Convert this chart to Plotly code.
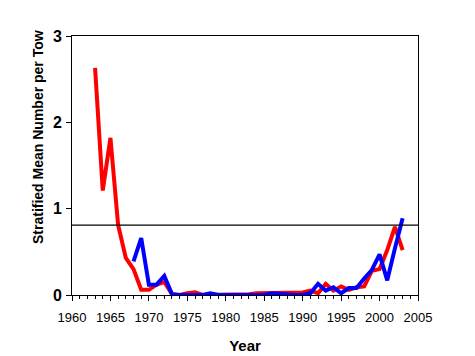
import plotly.graph_objects as go

red_years = list(range(1963, 2004))
red_values = [2.63, 1.21, 1.82, 0.81, 0.43, 0.30, 0.06, 0.06, 0.12, 0.15, 0.01,
              0.00, 0.02, 0.03, 0.00, 0.00, 0.00, 0.00, 0.00, 0.00, 0.01, 0.02,
              0.02, 0.03, 0.02, 0.02, 0.02, 0.03, 0.05, 0.02, 0.13, 0.05, 0.10,
              0.06, 0.09, 0.10, 0.28, 0.30, 0.52, 0.79, 0.52]
blue_years = list(range(1968, 2004))
blue_values = [0.39, 0.66, 0.12, 0.12, 0.22, 0.01, 0.00, 0.00, 0.00, 0.00,
               0.02, 0.00, 0.00, 0.00, 0.00, 0.00, 0.00, 0.00, 0.02, 0.01,
               0.00, 0.00, 0.00, 0.02, 0.13, 0.05, 0.09, 0.02, 0.08, 0.08,
               0.19, 0.29, 0.47, 0.17, 0.54, 0.89]
ref_level = 0.81
x_ticks = list(range(1960, 2006, 5))
y_ticks = [0, 1, 2, 3]

fig = go.Figure()
fig.add_trace(go.Scatter(x=red_years, y=red_values, mode="lines",
                         line=dict(color="#FF0000", width=4), showlegend=False))
fig.add_trace(go.Scatter(x=blue_years, y=blue_values, mode="lines",
                         line=dict(color="#0000FF", width=4), showlegend=False))
fig.add_shape(type="line", xref="paper", x0=0, x1=1, yref="y", y0=ref_level, y1=ref_level,
              line=dict(color="black", width=1.3))

# y-axis title placed as an annotation (sits above centre in the original)
fig.add_annotation(text="<b>Stratified Mean Number per Tow</b>", textangle=-90,
                   xref="paper", yref="paper", x=0, y=0.61, xshift=-44,
                   showarrow=False, font=dict(size=14))

# page body has a default 8px margin, so the figure is shifted by 8px
fig.update_layout(
    width=467, height=348,
    margin=dict(l=64, r=57, t=28, b=61),
    paper_bgcolor="white", plot_bgcolor="white",
    font=dict(family="Liberation Sans, Arial", color="black"),
)
fig.update_xaxes(
    automargin=False,
    range=[1960, 2005], tickvals=x_ticks, ticktext=[str(v) for v in x_ticks],
    ticks="outside", ticklen=5, tickwidth=1, tickcolor="black",
    minor=dict(dtick=1, ticks="outside", ticklen=3, tickcolor="black", tick0=1960),
    showline=True, linecolor="black", linewidth=1, mirror=True,
    showgrid=False, zeroline=False, ticklabelstandoff=5,
    tickfont=dict(size=13, family="Liberation Sans Narrow, Liberation Sans"),
    title=dict(text="<b>Year</b>", font=dict(size=15), standoff=16),
)
fig.update_yaxes(
    automargin=False,
    range=[0, 3], tickvals=y_ticks, ticktext=["<b>%d</b>" % v for v in y_ticks],
    ticks="outside", ticklen=5, tickwidth=1, tickcolor="black",
    showline=True, linecolor="black", linewidth=1, mirror=True,
    showgrid=False, zeroline=False, ticklabelstandoff=1,
    tickfont=dict(size=16),
)
fig.write_html("out.html")
